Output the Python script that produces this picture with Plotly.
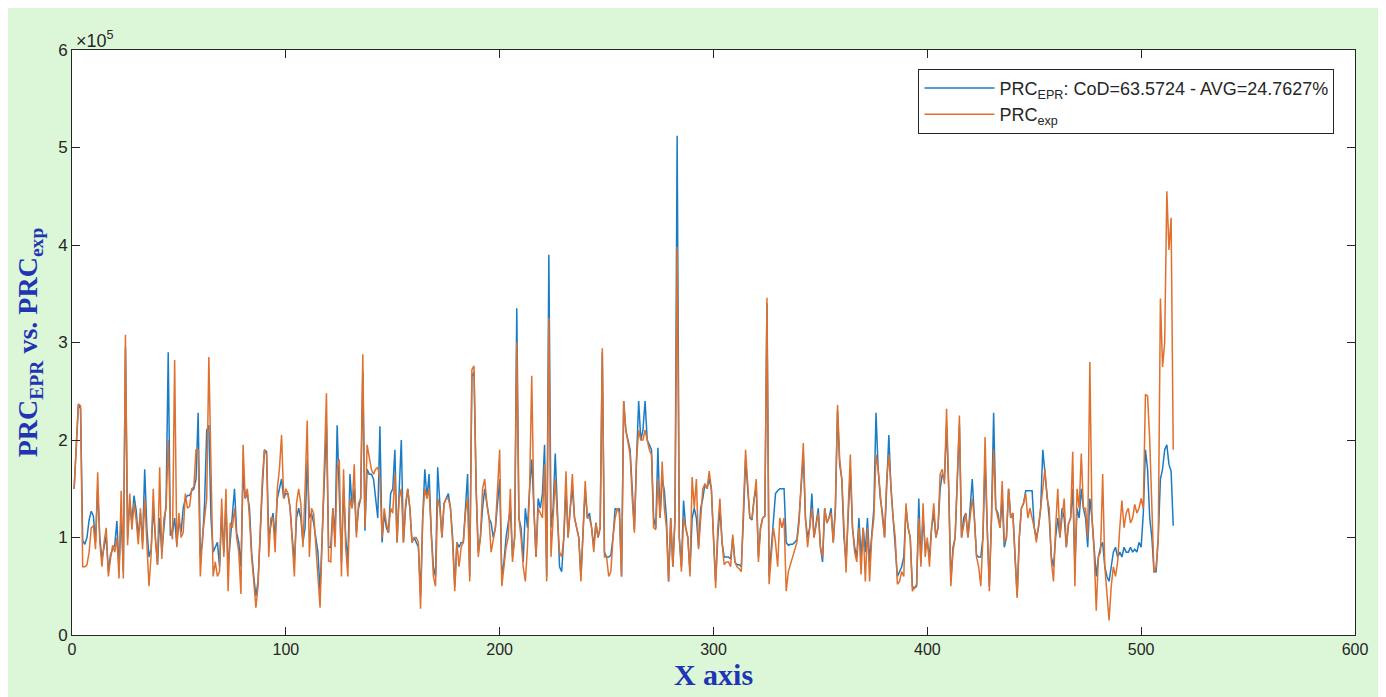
import plotly.graph_objects as go

# values in thousands (×1e3)
prc_epr_k = [
    150,200,237,232,97,93,100,118,127,122,
    95,150,100,78,92,102,65,82,88,92,
    117,68,125,65,295,100,138,115,143,128,
    100,125,95,170,110,80,88,130,100,72,
    120,85,110,135,290,102,105,120,92,118,
    105,130,140,143,143,148,150,160,228,80,
    95,135,210,215,120,85,90,95,70,125,
    85,135,70,100,120,150,105,95,70,165,
    140,145,130,85,60,40,55,110,150,190,
    188,100,115,125,100,140,150,160,140,145,
    145,130,100,75,120,130,120,95,110,180,
    120,125,115,100,85,45,100,150,215,90,
    90,130,100,215,150,75,150,100,75,165,
    130,150,105,130,140,270,107,170,165,165,
    160,140,120,214,95,125,110,105,145,150,
    190,95,150,200,95,130,150,130,95,100,
    95,90,40,120,170,140,165,105,70,60,
    172,130,100,135,140,145,130,100,50,95,
    90,95,95,130,165,60,265,270,150,85,
    100,130,150,135,120,115,100,110,140,160,
    60,75,100,115,130,80,100,335,120,110,
    75,130,110,150,180,130,80,140,130,145,
    195,60,390,110,130,186,120,70,65,100,
    150,100,130,150,120,110,100,60,110,150,
    120,125,110,90,115,100,110,290,85,80,
    80,82,100,130,128,130,60,240,210,200,
    190,150,108,180,240,200,210,240,200,195,
    190,120,110,192,120,160,148,120,55,120,
    70,120,512,100,70,138,110,100,65,120,
    130,120,90,130,140,155,150,160,150,100,
    55,100,130,95,80,80,80,78,100,75,
    72,72,70,120,180,150,120,118,140,150,
    80,110,120,122,340,60,90,120,145,148,
    150,150,150,95,92,93,93,95,98,120,
    150,185,120,100,110,145,100,115,130,90,
    75,130,115,120,130,95,130,230,175,160,
    100,75,130,170,110,90,80,120,80,110,
    85,120,75,100,130,228,170,140,125,100,
    160,205,150,120,100,60,65,70,80,130,
    110,100,50,48,50,140,75,120,90,95,
    80,110,125,100,110,150,165,160,215,150,
    55,90,100,150,215,100,120,125,100,130,
    160,120,82,80,80,100,180,110,50,120,
    228,130,125,110,140,90,100,150,120,125,
    80,40,100,130,135,148,148,148,148,110,
    100,110,130,190,166,140,120,80,70,100,
    120,100,130,120,90,114,120,150,70,130,
    120,150,130,120,90,140,120,90,60,80,
    90,95,70,60,55,70,85,90,80,85,
    80,90,85,85,90,85,88,85,95,90,
    125,190,170,120,100,65,65,100,160,170,
    190,195,175,168,112,
]

prc_exp_k = [
    150,195,237,235,70,70,72,85,110,112,
    88,167,95,70,95,110,60,78,92,85,
    100,58,148,58,308,92,145,108,135,118,
    93,130,88,140,100,50,82,150,98,72,
    172,78,120,130,200,112,98,282,90,125,
    100,105,145,130,132,150,152,190,190,60,
    100,120,140,285,150,60,75,60,65,140,
    80,150,45,115,110,130,100,85,42,195,
    140,150,120,80,55,28,50,100,160,190,
    185,80,120,120,85,150,170,205,140,150,
    145,130,90,60,135,150,135,90,150,220,
    80,130,125,90,65,28,100,170,248,76,
    75,130,90,170,180,60,170,90,60,140,
    130,175,100,135,140,288,110,195,180,170,
    165,170,172,160,100,130,115,105,130,125,
    165,95,140,150,95,135,150,130,95,100,
    100,95,27,120,150,140,150,105,60,50,
    140,130,100,135,140,140,130,95,45,95,
    70,90,95,125,140,55,272,276,150,80,
    100,150,160,135,120,85,100,110,150,190,
    50,70,90,100,150,75,100,300,120,100,
    70,55,90,150,266,130,80,130,125,120,
    175,55,325,80,120,160,120,85,80,100,
    168,100,130,165,120,110,100,55,110,158,
    120,120,110,85,115,100,110,294,80,80,
    60,65,100,120,130,125,60,240,210,195,
    185,140,105,180,210,200,200,210,200,190,
    185,110,108,160,120,178,130,110,55,120,
    70,120,398,100,65,120,110,100,60,162,
    130,160,88,120,150,155,150,168,150,100,
    48,110,140,95,72,75,75,70,103,75,
    70,68,65,130,190,155,120,120,140,160,
    75,110,120,122,346,52,80,110,95,70,
    120,110,120,45,65,72,80,88,95,115,
    160,197,120,90,110,130,100,115,125,90,
    80,130,115,120,125,95,130,236,180,160,
    110,64,130,185,110,85,75,110,62,110,
    55,110,55,100,120,185,170,140,120,100,
    160,185,150,120,100,52,55,65,60,135,
    110,100,45,48,52,120,70,135,80,100,
    70,110,135,100,110,165,170,155,232,150,
    50,85,100,160,225,100,115,125,100,120,
    140,120,80,70,50,100,203,110,45,120,
    190,130,120,110,158,95,100,150,120,125,
    80,38,100,130,135,145,120,130,120,110,
    95,110,130,150,170,140,130,76,55,110,
    150,100,120,140,90,114,120,188,50,150,
    130,186,130,130,100,280,120,85,25,80,
    85,165,70,40,15,50,70,60,75,110,
    138,110,125,130,115,120,134,125,130,140,
    130,247,245,200,130,64,70,100,345,275,
    300,455,395,428,190,
]

x_index = list(range(1, len(prc_epr_k) + 1))
x_ticks = [0, 100, 200, 300, 400, 500, 600]
y_ticks = [0, 1e5, 2e5, 3e5, 4e5, 5e5, 6e5]
y_tick_labels = ["0", "1", "2", "3", "4", "5", "6"]

epr = [v * 1000 for v in prc_epr_k]
exp_ = [v * 1000 for v in prc_exp_k]

BLUE = "#1a7cc4"
ORANGE = "#e0702e"
AXC = "#262626"
TITLEC = "#1f35b3"
BG = "#dcf7d7"
SANS = "Liberation Sans, Arial, sans-serif"
SERIF = "Liberation Serif, DejaVu Serif, serif"

fig = go.Figure()
fig.add_trace(go.Scatter(x=x_index, y=epr, mode="lines",
                         line=dict(color=BLUE, width=1.5),
                         name="PRC<sub>EPR</sub>: CoD=63.5724 - AVG=24.7627%"))
fig.add_trace(go.Scatter(x=x_index, y=exp_, mode="lines",
                         line=dict(color=ORANGE, width=1.5),
                         name="PRC<sub>exp</sub>"))

# page body adds an 8px offset at left/top
W, H = 1378, 689
L, R, T, B = 64, 31, 42, 62

fig.update_layout(
    width=W, height=H,
    margin=dict(l=L, r=R, t=T, b=B),
    paper_bgcolor=BG, plot_bgcolor="white",
    showlegend=True,
    legend=dict(x=0.984, xanchor="right", y=0.968, yanchor="top",
                bgcolor="white", bordercolor=AXC, borderwidth=1,
                font=dict(family=SANS, size=18, color=AXC),
                itemwidth=70, tracegroupgap=0),
    font=dict(family=SANS, size=16, color=AXC),
    annotations=[dict(text="×10<sup>5</sup>", xref="paper", yref="paper",
                      x=0, y=1, xanchor="left", yanchor="bottom", xshift=2, yshift=-3,
                      showarrow=False,
                      font=dict(family=SANS, size=18, color=AXC))],
)

fig.update_xaxes(range=[0, 600], tickvals=x_ticks, ticks="inside", ticklen=8,
                 tickcolor=AXC, showline=True, linecolor=AXC, linewidth=1,
                 mirror="ticks", showgrid=False, zeroline=False,
                 tickfont=dict(family=SANS, size=16, color=AXC),
                 title=dict(text="<b>X axis</b>", standoff=2,
                            font=dict(family=SERIF, size=30, color=TITLEC)),
                 automargin=False)
fig.update_yaxes(range=[0, 6e5], tickvals=y_ticks, ticktext=y_tick_labels,
                 ticks="inside", ticklen=8, tickcolor=AXC, showline=True,
                 linecolor=AXC, linewidth=1, mirror="ticks", showgrid=False,
                 zeroline=False,
                 tickfont=dict(family=SANS, size=17, color=AXC),
                 title=dict(text="<b>PRC<sub>EPR</sub> vs. PRC<sub>exp</sub></b>", standoff=12,
                            font=dict(family=SERIF, size=28, color=TITLEC)),
                 automargin=False)

fig.write_html("out.html")
